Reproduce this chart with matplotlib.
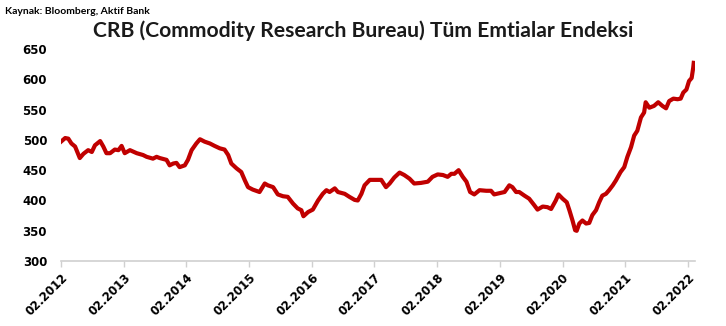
import matplotlib.pyplot as plt

# months since 02.2012 and index level
months = [0, 0.8, 1.4, 2.0, 2.7, 3.6, 4.3, 5.2, 5.9, 6.5, 7.5, 8.1, 8.7, 9.4, 10.3, 11.0,
          11.6, 12.2, 13.2, 14.5, 15.7, 16.4, 17.6, 18.3, 18.9, 20.2, 20.8, 21.5, 22.1,
          22.7, 23.7, 24.3, 25.0, 25.9, 26.6, 27.5, 28.5, 29.4, 30.4, 31.3, 32.0, 32.6,
          33.6, 34.5, 35.2, 35.8, 36.7, 38.0, 39.0, 39.6, 40.6, 41.5, 42.5, 43.4, 44.4,
          45.3, 46.0, 46.4, 47.3, 48.2, 49.2, 50.1, 50.8, 51.4, 52.4, 53.0, 54.3, 55.2,
          56.2, 56.8, 57.5, 58.1, 59.1, 60.3, 61.3, 62.2, 62.9, 63.8, 64.8, 65.7, 66.7,
          67.6, 68.9, 70.2, 71.1, 72.1, 73.1, 74.0, 74.7, 75.3, 76.1, 76.9, 77.6, 78.3,
          79.1, 80.1, 81.4, 82.3, 82.9, 83.9, 84.9, 85.8, 86.4, 87.1, 87.7, 88.7, 89.6,
          90.6, 91.2, 92.2, 93.1, 93.8, 94.7, 95.2, 96.0, 96.8, 97.3, 97.9, 98.4, 98.7,
          99.2, 99.8, 100.5, 101.1, 101.7, 102.4, 103.0, 103.6, 104.3, 104.9, 105.6,
          106.2, 107.1, 107.8, 108.4, 109.1, 109.7, 110.3, 111.0, 111.6, 111.9, 112.6,
          113.5, 114.3, 115.1, 115.8, 116.4, 117.2, 118.0, 118.6, 119.1, 119.7, 120.2,
          120.7, 121.0, 121.1]
crb = [497, 503, 502, 494, 489, 470, 477, 483, 480, 491, 498, 489, 478, 478, 484, 483,
       490, 478, 483, 478, 475, 472, 469, 472, 470, 467, 458, 461, 462,
       455, 458, 467, 483, 494, 501, 497, 494, 490, 486, 484, 475, 461,
       453, 447, 433, 422, 418, 414, 428, 425, 422, 410, 407, 406, 395,
       387, 384, 374, 381, 385, 400, 411, 417, 414, 420, 414, 411, 406,
       401, 400, 411, 425, 434, 434, 434, 422, 428, 438, 446, 442, 436,
       428, 429, 431, 439, 443, 442, 439, 444, 444, 450, 439, 431, 414,
       410, 417, 416, 416, 410, 412, 414, 425, 422, 414, 414, 408, 403,
       392, 385, 390, 389, 386, 400, 410, 403, 397, 384, 367, 351, 350,
       362, 367, 362, 363, 376, 384, 397, 408, 411, 417, 425,
       433, 447, 455, 472, 488, 507, 515, 537, 545, 562, 553,
       556, 562, 556, 552, 564, 568, 567, 568, 578, 583, 597,
       602, 619, 627]

tick_pos = [0, 12, 24, 36, 48, 60, 72, 84, 96, 108, 120]
tick_labels = ['02.2012', '02.2013', '02.2014', '02.2015', '02.2016', '02.2017',
               '02.2018', '02.2019', '02.2020', '02.2021', '02.2022']
y_ticks = [300, 350, 400, 450, 500, 550, 600, 650]

fig = plt.figure(figsize=(7.26, 3.26), dpi=100)
ax = fig.add_axes([0.084, 0.199, 0.873, 0.651])

ax.plot(months, crb, color='#C00000', linewidth=3.0, solid_joinstyle='round')

ax.set_xlim(0, 121.3)
ax.set_ylim(300, 650)
ax.set_yticks(y_ticks)
ax.set_xticks(tick_pos)
ax.set_xticklabels(tick_labels, rotation=45, ha='right', va='top',
                   rotation_mode='anchor', fontsize=8.5, fontweight='bold')
for lab in ax.get_yticklabels():
    lab.set_fontweight('bold')
    lab.set_fontsize(8.5)

for s in ['top', 'right', 'left']:
    ax.spines[s].set_visible(False)
ax.spines['bottom'].set_color('#d0d0d0')
ax.spines['bottom'].set_linewidth(1.2)
ax.tick_params(axis='y', length=0, pad=10)
ax.tick_params(axis='x', length=4, color='#d0d0d0', width=1, pad=3)

fig.text(0.007, 0.965, 'Kaynak: Bloomberg, Aktif Bank', fontsize=7.5,
         fontweight='bold', family='Lato', va='center')
fig.text(0.5, 0.905, 'CRB (Commodity Research Bureau) Tüm Emtialar Endeksi',
         fontsize=15.2, fontweight='bold', family='Lato', ha='center', va='center',
         color='#1a1a1a')

fig.savefig('out.png', dpi=100, facecolor='white')
